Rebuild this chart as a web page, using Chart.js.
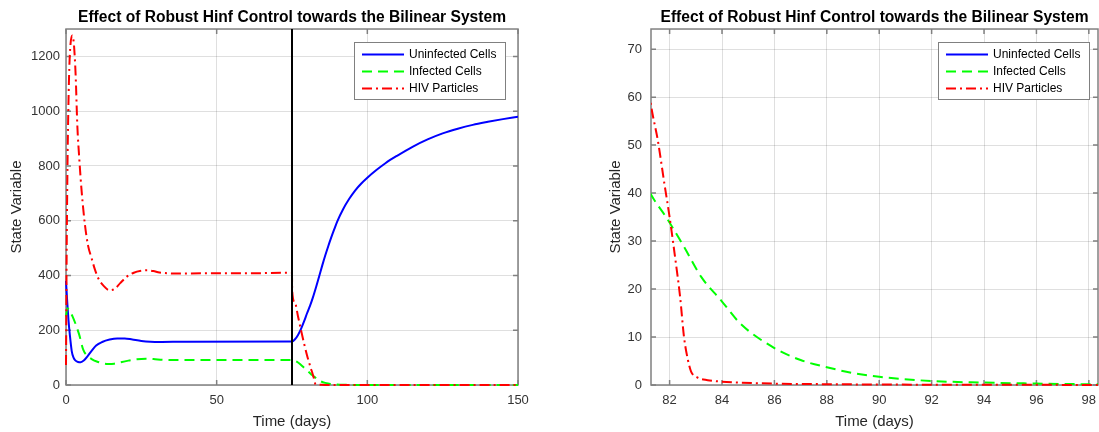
<!DOCTYPE html>
<html>
<head>
<meta charset="utf-8">
<script src="https://cdn.jsdelivr.net/npm/chart.js@4.4.1/dist/chart.umd.min.js"></script>
<style>
html, body { margin: 0; padding: 0; background: #fff; width: 1099px; height: 432px; overflow: hidden; position: relative; }
.panel { position: absolute; top: 0; height: 432px; }
#leftPanel { left: 0; width: 560px; }
#rightPanel { left: 599px; width: 530px; }
</style>
</head>
<body>
<div class="panel" id="leftPanel"><canvas id="leftChart"></canvas></div>
<div class="panel" id="rightPanel"><canvas id="rightChart"></canvas></div>
<script>
const FONT = '"Liberation Sans", Arial, Helvetica, sans-serif';
const TITLE = 'Effect of Robust Hinf Control towards the Bilinear System';
const X_LABEL = 'Time (days)';
const Y_LABEL = 'State Variable';
const seriesNames = ['Uninfected Cells', 'Infected Cells', 'HIV Particles'];

// uninfected cells
const uninfectedDays = [0, 0.4, 0.8, 1.3, 1.9, 2.5, 3, 4, 4.9, 6, 7, 8.5, 10, 12, 14.5, 17, 19.5, 22, 25, 28, 31, 40, 75,
  76, 77, 78, 79, 80, 81, 82, 83, 84, 85, 86, 87, 88, 89, 90, 92, 94, 96, 98, 100, 103, 106, 110, 115, 120, 125, 130, 135, 140, 145, 150];
const uninfected = [380, 305, 240, 180, 124, 100, 91, 84, 83, 90, 103, 125, 144, 157, 166, 170, 170, 166, 161, 158, 157, 158, 159,
  167, 183, 205, 232, 262, 290, 322, 358, 396, 435, 472, 506, 538, 568, 597, 643, 680, 711, 736, 757, 785, 810, 838, 870, 897, 919, 936, 950, 961, 971, 980];

// infected cells
const infectedDays = [0, 0.45, 1.3, 2.2, 3.5, 4.4, 5.75, 7.4, 8.8, 10.2, 12, 14, 16, 18, 20.7, 23.5, 26.5, 29, 32, 36, 45, 75,
  76, 77, 78, 79, 80, 81, 81.3, 81.9, 82.55, 83.2, 84, 84.7, 86, 87, 88, 89, 90, 92, 94, 96, 98, 100, 105, 110, 150];
const infected = [250, 280, 268, 250, 213, 183, 128, 104, 93, 86, 80, 77, 78, 83, 89, 94, 96, 95, 92, 91, 91, 91,
  88, 82, 73, 63, 53, 43, 39.6, 34.7, 28.8, 22.6, 17.4, 12.8, 7.7, 5.2, 3.7, 2.5, 1.7, 0.83, 0.5, 0.3, 0.15, 0.08, 0.03, 0.01, 0];

// HIV particles
const hivDays = [0, 0.1, 0.2, 0.35, 0.55, 0.8, 1.1, 1.5, 2.1, 2.5, 2.65, 3.2, 3.75, 4.4, 5.2, 6.3, 7.3, 8.5, 9.5, 10.7, 12.5, 14.5, 16, 18, 20, 22.5, 25, 27, 29, 31, 34, 37, 45, 60, 75,
  75.05, 76, 77, 78, 79, 80, 81, 81.3, 81.55, 81.8, 82, 82.2, 82.4, 82.55, 82.7, 82.82, 83.05, 83.45, 84, 84.7, 86, 88, 90, 94, 98, 105, 150];
const hiv = [73, 250, 450, 650, 850, 1020, 1160, 1245, 1276, 1258, 1242, 1132, 950, 828, 706, 584, 510, 463, 425, 390, 362, 346, 350, 372, 394, 410, 417, 419, 416, 411, 408, 407, 408, 408, 410,
  345, 300, 250, 200, 152, 108, 70, 58, 51, 42, 35, 27, 18.4, 10, 5.2, 2.8, 1.6, 1.0, 0.7, 0.5, 0.28, 0.17, 0.1, 0.05, 0.02, 0, 0];

const controlOnDay = 75;

const leftXRange = [0, 150];
const leftYRange = [0, 1300];
const leftXTicks = [0, 50, 100, 150];
const leftYTicks = [0, 200, 400, 600, 800, 1000, 1200];

const rightXRange = [81.29, 98.35];
const rightYRange = [0, 74.2];
const rightXTicks = [82, 84, 86, 88, 90, 92, 94, 96, 98];
const rightYTicks = [0, 10, 20, 30, 40, 50, 60, 70];

const pts = (days, vals) => days.map((d, i) => ({ x: d, y: vals[i] }));

function makeDatasets(withSwitch){
  const ds = [
    { label: seriesNames[0], data: pts(uninfectedDays, uninfected), borderColor: '#0000ff', borderDash: [], order: 3 },
    { label: seriesNames[1], data: pts(infectedDays, infected), borderColor: '#00ff00', borderDash: [10, 6], order: 2 },
    { label: seriesNames[2], data: pts(hivDays, hiv), borderColor: '#ff0000', borderDash: [10, 4, 2, 4], order: 1 },
  ];
  if (withSwitch) {
    ds.push({ label: '', data: [{ x: controlOnDay, y: leftYRange[0] }, { x: controlOnDay, y: leftYRange[1] }],
      borderColor: '#000000', borderDash: [], order: 0, isMarker: true, cubicInterpolationMode: 'default' });
  }
  return ds;
}

// box + inward ticks like matlab
const frame = {
  id: 'frame',
  beforeDatasetsDraw(chart){
    const { ctx, chartArea: a, scales } = chart;
    ctx.save();
    ctx.strokeStyle = '#808080';
    ctx.lineWidth = 1.5;
    ctx.strokeRect(a.left, a.top, a.right - a.left, a.bottom - a.top);
    ctx.beginPath();
    scales.x.ticks.forEach(t => {
      const p = scales.x.getPixelForValue(t.value);
      ctx.moveTo(p, a.bottom); ctx.lineTo(p, a.bottom - 5);
      ctx.moveTo(p, a.top); ctx.lineTo(p, a.top + 5);
    });
    scales.y.ticks.forEach(t => {
      const p = scales.y.getPixelForValue(t.value);
      ctx.moveTo(a.left, p); ctx.lineTo(a.left + 5, p);
      ctx.moveTo(a.right, p); ctx.lineTo(a.right - 5, p);
    });
    ctx.stroke();
    ctx.restore();
  }
};

const boxLegend = {
  id: 'boxLegend',
  afterDatasetsDraw(chart, args, opts){
    const { ctx } = chart;
    const x = opts.right - opts.width, y = opts.top;
    ctx.save();
    ctx.fillStyle = '#fff';
    ctx.fillRect(x, y, opts.width, opts.height);
    ctx.strokeStyle = '#808080';
    ctx.lineWidth = 1;
    ctx.strokeRect(x + 0.5, y + 0.5, opts.width, opts.height);
    chart.data.datasets.filter(d => !d.isMarker).forEach((d, i) => {
      const ry = y + 12.5 + i * 17;
      ctx.beginPath();
      ctx.setLineDash(d.borderDash || []);
      ctx.strokeStyle = d.borderColor;
      ctx.lineWidth = 2;
      ctx.moveTo(x + 8, ry); ctx.lineTo(x + 50, ry);
      ctx.stroke();
      ctx.setLineDash([]);
      ctx.fillStyle = '#000';
      ctx.font = '12px ' + FONT;
      ctx.textBaseline = 'middle';
      ctx.fillText(d.label, x + 55, ry);
    });
    ctx.restore();
  }
};

function axis(range, ticks, label, isX, size, pad){
  return {
    type: 'linear',
    min: range[0], max: range[1],
    afterBuildTicks: s => { s.ticks = ticks.map(v => ({ value: v })); },
    afterFit: s => { if (isX) s.height = size; else s.width = size; },
    grid: { color: 'rgba(38,38,38,0.15)', lineWidth: 1, drawTicks: false },
    border: { display: false },
    ticks: { color: '#333', font: { family: FONT, size: 13 }, padding: pad, maxRotation: 0, autoSkip: false,
      callback: v => String(v) },
    title: { display: true, text: label, color: '#262626', font: { family: FONT, size: 15 },
      padding: isX ? { top: 0, bottom: 1 } : { top: 8, bottom: 0 } }
  };
}

function makeChart(id, cfg){
  return new Chart(document.getElementById(id), {
    type: 'line',
    data: { datasets: makeDatasets(cfg.withSwitch) },
    options: {
      responsive: true,
      maintainAspectRatio: false,
      animation: false,
      layout: { padding: { left: 0, top: 0, right: cfg.padRight, bottom: 0 } },
      elements: { point: { radius: 0 }, line: { borderWidth: 2, cubicInterpolationMode: 'monotone' } },
      datasets: { line: { clip: cfg.clip } },
      scales: {
        x: axis(cfg.xRange, cfg.xTicks, X_LABEL, true, 47, 8),
        y: axis(cfg.yRange, cfg.yTicks, Y_LABEL, false, cfg.yWidth, cfg.yPad)
      },
      plugins: {
        legend: { display: false },
        tooltip: { enabled: false },
        title: { display: true, text: TITLE, fullSize: false, color: '#000',
          font: { family: FONT, size: 15.6, weight: 'bold' }, padding: { top: 8, bottom: 2.3 } },
        boxLegend: cfg.legend
      }
    },
    plugins: [frame, boxLegend]
  });
}

makeChart('leftChart', {
  withSwitch: true,
  xRange: leftXRange, yRange: leftYRange, xTicks: leftXTicks, yTicks: leftYTicks,
  padRight: 42, yWidth: 66, yPad: 6,
  clip: { left: 2, top: 0, right: 0, bottom: 2 },
  legend: { right: 505, top: 42, width: 151, height: 57 }
});

makeChart('rightChart', {
  withSwitch: false,
  xRange: rightXRange, yRange: rightYRange, xTicks: rightXTicks, yTicks: rightYTicks,
  padRight: 31, yWidth: 52, yPad: 9,
  clip: { left: 0, top: 0, right: 0, bottom: 2 },
  legend: { right: 490, top: 42, width: 151, height: 57 }
});
</script>
</body>
</html>
